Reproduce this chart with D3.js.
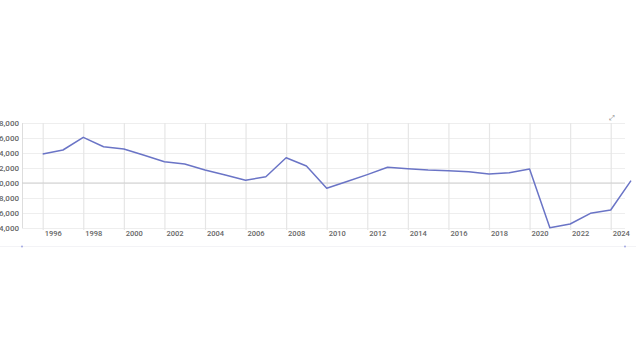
<!DOCTYPE html>
<html><head><meta charset="utf-8">
<script src="https://cdn.jsdelivr.net/npm/d3@7"></script>
<style>html,body{margin:0;padding:0;background:#fff;overflow:hidden}</style>
</head><body>
<svg id="c" width="636" height="358"></svg>
<script>
const years = [1996,1997,1998,1999,2000,2001,2002,2003,2004,2005,2006,2007,2008,2009,2010,2011,2012,2013,2014,2015,2016,2017,2018,2019,2020,2021,2022,2023,2024,2025];
const values = [13870,14400,16090,14840,14530,13690,12840,12530,11730,11070,10360,10840,13370,12270,9290,10200,11120,12090,11910,11730,11640,11510,11200,11370,11870,4040,4530,5960,6400,10310];
const xTickYears = [1996,1998,2000,2002,2004,2006,2008,2010,2012,2014,2016,2018,2020,2022,2024];
const yTicks = [18000,16000,14000,12000,10000,8000,6000,4000];
const baseline = 10000;

const svg = d3.select('#c');
const x = d3.scaleLinear().domain([1996,2025]).range([42.7,631]);
const y = d3.scaleLinear().domain([4000,18000]).range([228,123]);

// horizontal gridlines
const yAxis = d3.axisLeft(y).tickValues(yTicks).tickFormat(d3.format(',')).tickSize(-603).tickPadding(3);
const gy = svg.append('g').attr('transform','translate(22,0)').call(yAxis);
gy.select('.domain').remove();
gy.selectAll('.tick line').attr('stroke','#eeeeee').attr('stroke-width',1);
gy.selectAll('.tick text').attr('fill','#666').style('font-family','Roboto, sans-serif').style('font-size','8px').style('font-weight','500');

// vertical gridlines + labels
const xAxis = d3.axisBottom(x).tickValues(xTickYears).tickFormat(d3.format('d')).tickSize(-107).tickPadding(0);
const gx = svg.append('g').attr('transform','translate(0,230)').call(xAxis);
gx.select('.domain').remove();
gx.selectAll('.tick line').attr('stroke','#e6e6e6').attr('stroke-width',1.2);
gx.selectAll('.tick text').attr('fill','#666').attr('dx',10).attr('dy',6).attr('text-anchor','middle')
  .style('font-family','Roboto, sans-serif').style('font-size','7.5px').style('font-weight','500');

// left axis line
svg.append('line').attr('x1',22.5).attr('x2',22.5).attr('y1',y(18000)).attr('y2',y(4000)).attr('stroke','#dddddd');
// baseline
svg.append('line').attr('x1',22).attr('x2',625).attr('y1',y(baseline)).attr('y2',y(baseline)).attr('stroke','#cfcfcf').attr('stroke-width',1);

// bottom faint band
svg.append('line').attr('x1',0).attr('x2',636).attr('y1',246.5).attr('y2',246.5).attr('stroke','#f3f3f6');
svg.append('circle').attr('cx',22).attr('cy',246.5).attr('r',0.9).attr('fill','#9aa0e0');
svg.append('circle').attr('cx',625).attr('cy',246.5).attr('r',0.9).attr('fill','#9aa0e0');

// line
const line = d3.line().x((d,i)=>x(years[i])).y(d=>y(d));
svg.append('path').datum(values).attr('d',line).attr('fill','none').attr('stroke','#6a74c6').attr('stroke-width',1.5).attr('stroke-linejoin','round');

// expand icon
svg.append('text').attr('x',609).attr('y',120).text('⤢').attr('fill','#777').style('font-size','7px').style('font-family','DejaVu Sans');
</script>
</body></html>
